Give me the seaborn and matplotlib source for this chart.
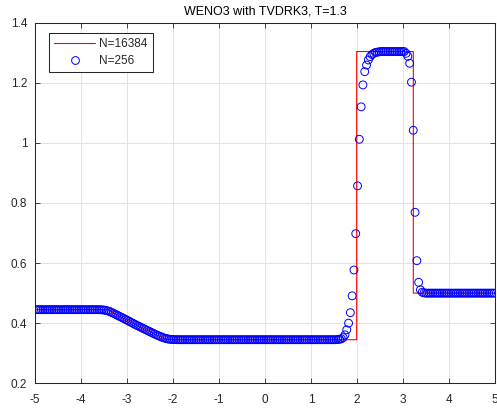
import numpy as np
import pandas as pd
import matplotlib
matplotlib.use("Agg")
import matplotlib.pyplot as plt
from matplotlib.lines import Line2D
import seaborn as sns

# Reference solution (fine grid), drawn as a polyline
ref_x = [-5.0, -3.42, -3.2, -3.0, -2.8, -2.6, -2.4, -2.12, 1.993, 1.993, 3.224, 3.224, 5.0]
ref_rho = [0.445, 0.445, 0.426, 0.410, 0.394, 0.379, 0.364, 0.345, 0.345, 1.304, 1.304, 0.500, 0.500]

# Coarse-grid WENO3 density at the 256 cell centres
weno_rho = [
    0.445, 0.445, 0.445, 0.445, 0.445, 0.445, 0.445, 0.445, 0.445, 0.445, 0.445, 0.445, 0.445, 0.445, 0.445, 0.445,
    0.445, 0.445, 0.445, 0.445, 0.445, 0.445, 0.445, 0.445, 0.445, 0.445, 0.445, 0.445, 0.445, 0.445, 0.445, 0.445,
    0.445, 0.445, 0.4450, 0.4449, 0.4447, 0.4443, 0.4436, 0.4425, 0.4409, 0.4388, 0.4362, 0.4334, 0.4304, 0.4274, 0.4244, 0.4214,
    0.4185, 0.4154, 0.4122, 0.4091, 0.4059, 0.4028, 0.3996, 0.3965, 0.3934, 0.3905, 0.3875, 0.3846, 0.3816, 0.3787, 0.3758, 0.3729,
    0.3700, 0.3671, 0.3642, 0.3614, 0.3588, 0.3562, 0.3537, 0.3515, 0.3496, 0.3481, 0.3470, 0.3462, 0.3457, 0.3454, 0.3452, 0.3451,
    0.345, 0.345, 0.345, 0.345, 0.345, 0.345, 0.345, 0.345, 0.345, 0.345, 0.345, 0.345, 0.345, 0.345, 0.345, 0.345,
    0.345, 0.345, 0.345, 0.345, 0.345, 0.345, 0.345, 0.345, 0.345, 0.345, 0.345, 0.345, 0.345, 0.345, 0.345, 0.345,
    0.345, 0.345, 0.345, 0.345, 0.345, 0.345, 0.345, 0.345, 0.345, 0.345, 0.345, 0.345, 0.345, 0.345, 0.345, 0.345,
    0.345, 0.345, 0.345, 0.345, 0.345, 0.345, 0.345, 0.345, 0.345, 0.345, 0.345, 0.345, 0.345, 0.345, 0.345, 0.345,
    0.345, 0.345, 0.345, 0.345, 0.345, 0.345, 0.345, 0.345, 0.345, 0.345, 0.345, 0.345, 0.345, 0.345, 0.345, 0.345,
    0.345, 0.345, 0.345, 0.345, 0.345, 0.345, 0.345, 0.3452, 0.3456, 0.3465, 0.348, 0.352, 0.361, 0.378, 0.400, 0.435,
    0.491, 0.577, 0.698, 0.857, 1.012, 1.120, 1.193, 1.237, 1.259, 1.276, 1.287, 1.294, 1.298, 1.301, 1.302, 1.303,
    1.304, 1.304, 1.304, 1.304, 1.304, 1.304, 1.304, 1.304, 1.304, 1.304, 1.304, 1.304, 1.304, 1.304, 1.298, 1.288,
    1.265, 1.202, 1.042, 0.769, 0.608, 0.536, 0.511, 0.503, 0.501, 0.500, 0.500, 0.500, 0.500, 0.500, 0.500, 0.500,
    0.500, 0.500, 0.500, 0.500, 0.500, 0.500, 0.500, 0.500, 0.500, 0.500, 0.500, 0.500, 0.500, 0.500, 0.500, 0.500,
    0.500, 0.500, 0.500, 0.500, 0.500, 0.500, 0.500, 0.500, 0.500, 0.500, 0.500, 0.500, 0.500, 0.500, 0.500, 0.500,
]

x_ticks = [-5, -4, -3, -2, -1, 0, 1, 2, 3, 4, 5]
y_ticks = [0.2, 0.4, 0.6, 0.8, 1.0, 1.2, 1.4]
y_tick_labels = ["0.2", "0.4", "0.6", "0.8", "1", "1.2", "1.4"]

n_cells = len(weno_rho)
x_cells = -5.0 + (np.arange(n_cells) + 0.5) * 10.0 / n_cells

ref_df = pd.DataFrame({"x": ref_x, "rho": ref_rho})
weno_df = pd.DataFrame({"x": x_cells, "rho": weno_rho})

sns.set_style("white")
plt.rcParams["font.family"] = ["Liberation Sans", "DejaVu Sans"]

ink = "#262626"
fig = plt.figure(figsize=(4.97, 4.12), dpi=100)
ax = fig.add_axes([0.0704, 0.0697, 0.9256, 0.8752])

sns.lineplot(data=ref_df, x="x", y="rho", ax=ax, color="red", linewidth=0.8,
             estimator=None, sort=False, zorder=3)
sns.scatterplot(data=weno_df, x="x", y="rho", ax=ax, marker="o", s=32,
                linewidth=0.7, zorder=4)
coll = ax.collections[-1]
coll.set_facecolor("none")
coll.set_edgecolor("blue")

ax.set_xlim(-5, 5)
ax.set_ylim(0.2, 1.4)
ax.set_xticks(x_ticks)
ax.set_xticklabels([str(t) for t in x_ticks])
ax.set_yticks(y_ticks)
ax.set_yticklabels(y_tick_labels)
ax.set_xlabel("")
ax.set_ylabel("")

ax.grid(True, color="#e3e3e3", linewidth=0.7, zorder=0)
ax.set_axisbelow(True)
for sp in ax.spines.values():
    sp.set_visible(True)
    sp.set_color(ink)
    sp.set_linewidth(0.75)

ax.tick_params(axis="both", which="both", direction="in", length=3.3, width=0.6,
               color=ink, labelcolor=ink, labelsize=8.5, top=True, right=True,
               bottom=True, left=True)
ax.tick_params(axis="x", pad=8)
ax.tick_params(axis="y", pad=5.5)

ax.set_title("WENO3 with TVDRK3, T=1.3", fontsize=9, color="black", pad=6)

handles = [
    Line2D([], [], color="red", linewidth=0.8),
    Line2D([], [], color="blue", marker="o", markerfacecolor="none",
           markeredgewidth=0.7, markersize=5.6, linestyle="none"),
]
leg = ax.legend(handles, ["N=16384", "N=256"], loc="upper left",
                bbox_to_anchor=(0.031, 0.9706), borderaxespad=0,
                fontsize=8.5, frameon=True, fancybox=False, framealpha=1,
                edgecolor=ink, handlelength=3.5, handletextpad=0.35,
                borderpad=0.4, labelspacing=0.45, numpoints=1)
leg.get_frame().set_linewidth(0.75)

fig.savefig("out.png", dpi=100)
